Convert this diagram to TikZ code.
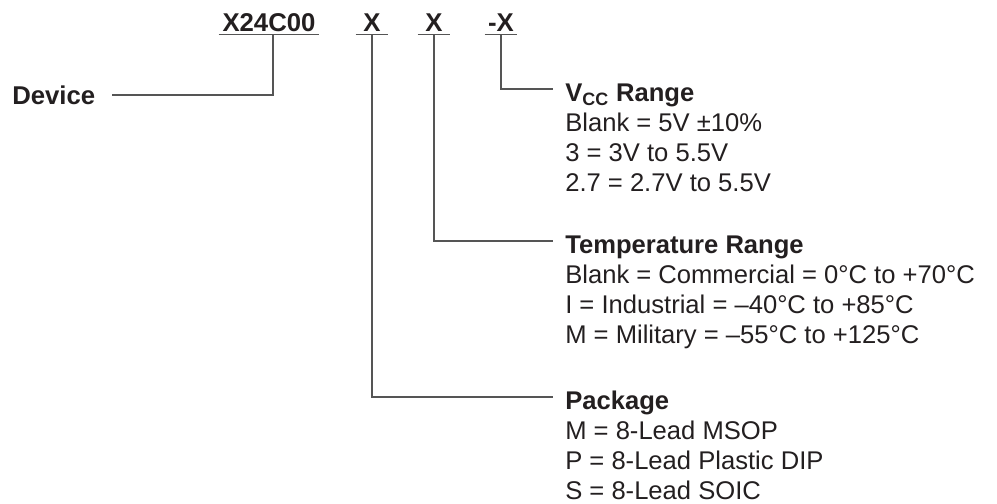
\documentclass[tikz,border=0pt]{standalone}
\usepackage{fontspec}
\setmainfont{Liberation Sans}
\usetikzlibrary{positioning}

\definecolor{inkgray}{HTML}{231F20}
\definecolor{linegray}{HTML}{555555}

\begin{document}
\begin{tikzpicture}[x=0.025cm, y=-0.025cm,
    part/.style={font=\fontsize{18.3}{21.6}\selectfont\bfseries, text=inkgray, inner sep=0pt, text depth=0.06cm, anchor=base},
    head/.style={font=\fontsize{18.2}{21.6}\selectfont\bfseries, text=inkgray, inner xsep=0.3cm, inner ysep=0pt, text height=0.6cm, text depth=0pt, anchor=west},
    items/.style={font=\fontsize{18.2}{21.6}\selectfont, text=inkgray, inner xsep=0.3cm, inner ysep=0pt, align=left},
    conn/.style={draw=linegray, line width=0.8pt}]
    \useasboundingbox (0,0) rectangle (997,504);

    % Part number
    \node[part, minimum width=2.5cm] (p0) at (269,32) {X24C00};
    \node[part, minimum width=0.8cm] (pA) at (372,32) {X};
    \node[part, minimum width=0.8cm] (pB) at (434,32) {X};
    \node[part, minimum width=0.8cm] (pC) at (501,32) {-X};
    \foreach \p in {p0, pA, pB, pC}
        \draw[conn] (\p.south west) -- (\p.south east);

    % Device
    \node[part, anchor=west, text depth=0pt] (device) at (12,95) {Device};
    \draw[conn] ([xshift=0.1cm]p0.south) |- ([xshift=0.4cm]device.east);

    % Vcc range
    \node[head] (vcc) at (553,89) {V\textsubscript{CC} Range};
    \node[items, below right=0.275cm and 0cm of vcc.south west] (vccl)
        {Blank = 5V ±10\%\\3 = 3V to 5.5V\\2.7 = 2.7V to 5.5V};
    \draw[conn] (pC.south) |- (vcc.west);

    % Temperature range
    \node[head] (temp) at (553,241) {Temperature Range};
    \node[items, below right=0.275cm and 0cm of temp.south west] (templ)
        {Blank = Commercial = 0°C to +70°C\\I = Industrial = --40°C to +85°C\\M = Military = --55°C to +125°C};
    \draw[conn] (pB.south) |- (temp.west);

    % Package
    \node[head] (pkg) at (553,397) {Package};
    \node[items, below right=0.275cm and 0cm of pkg.south west] (pkgl)
        {M = 8-Lead MSOP\\P = 8-Lead Plastic DIP\\S = 8-Lead SOIC};
    \draw[conn] (pA.south) |- (pkg.west);
\end{tikzpicture}
\end{document}
